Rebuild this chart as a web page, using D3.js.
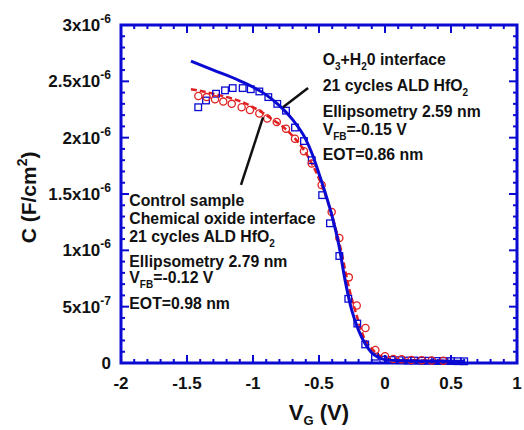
<!DOCTYPE html>
<html>
<head>
<meta charset="utf-8">
<script src="https://cdn.jsdelivr.net/npm/d3@7"></script>
<style>
  html, body { margin: 0; padding: 0; background: #fff; }
  svg { display: block; font-family: "Liberation Sans", Arial, sans-serif; font-weight: bold; }
</style>
</head>
<body>
<svg id="chart" width="524" height="430"></svg>
<script>
// ---- Data (capacitance in units of 1e-6 F/cm^2) ----
const sqV = [-1.415,-1.356,-1.28,-1.212,-1.154,-1.078,-1.017,-0.952,-0.884,-0.816,-0.75,-0.682,-0.614,-0.555,-0.476,-0.417,-0.346,-0.278,-0.21,-0.15,-0.076,-0.013,0.05,0.11,0.17,0.22,0.28,0.33,0.39,0.44,0.5,0.55,0.6];
const sqC = [2.27,2.33,2.39,2.42,2.44,2.44,2.43,2.41,2.36,2.30,2.24,2.09,1.97,1.80,1.49,1.24,0.95,0.57,0.35,0.165,0.056,0.03,0.027,0.025,0.022,0.022,0.02,0.02,0.018,0.018,0.017,0.016,0.015];

const ciV = [-1.414,-1.351,-1.288,-1.225,-1.161,-1.086,-1.023,-0.952,-0.892,-0.82,-0.75,-0.682,-0.614,-0.555,-0.48,-0.404,-0.346,-0.274,-0.214,-0.148,-0.073,0.0,0.063,0.126,0.2,0.278,0.354,0.442];
const ciC = [2.37,2.36,2.34,2.32,2.30,2.27,2.245,2.215,2.17,2.14,2.08,1.99,1.88,1.77,1.58,1.34,1.11,0.76,0.51,0.31,0.115,0.06,0.035,0.033,0.027,0.025,0.022,0.02];

const fitBlueV = [-1.47,-1.3,-1.1,-0.9,-0.8,-0.7,-0.6,-0.55,-0.5,-0.45,-0.4,-0.35,-0.3,-0.25,-0.2,-0.15,-0.1,-0.05,0,0.1,0.3,0.6];
const fitBlueC = [2.68,2.60,2.505,2.38,2.285,2.16,1.985,1.85,1.68,1.50,1.30,1.05,0.72,0.46,0.29,0.17,0.09,0.05,0.03,0.022,0.018,0.015];

const fitRedV = [-1.47,-1.3,-1.05,-0.85,-0.72,-0.614,-0.568,-0.48,-0.404,-0.341,-0.265,-0.214,-0.164,-0.09,0.01,0.1,0.45];
const fitRedC = [2.43,2.39,2.30,2.16,2.04,1.89,1.80,1.58,1.32,1.04,0.63,0.42,0.24,0.115,0.04,0.03,0.02];

const xTicks = [-2,-1.5,-1,-0.5,0,0.5,1];
const xTickLabels = ["-2","-1.5","-1","-0.5","0","0.5","1"];
const yTicks = [0,0.5,1,1.5,2,2.5,3];
const yTickMain = ["0","5x10","1x10","1.5x10","2x10","2.5x10","3x10"];
const yTickExp = ["","-7","-6","-6","-6","-6","-6"];

// annotation pointer lines: [V1, C1, V2, C2]
const pointers = [[-0.583,2.44,-0.773,2.27],[-0.924,2.18,-1.091,1.58]];

// ---- Layout ----
const BLUE = "#0a0ad2", RED = "#e02020";
const svg = d3.select("#chart");
const x = d3.scaleLinear().domain([-2,1]).range([121,517]);
const y = d3.scaleLinear().domain([0,3]).range([363,25]);

// frame
svg.append("rect").attr("x",x(-2)).attr("y",y(3)).attr("width",x(1)-x(-2)).attr("height",y(0)-y(3))
  .attr("fill","none").attr("stroke",BLUE).attr("stroke-width",3);

// ticks on four sides (inward)
const xMinor = d3.range(-20,11).map(d=>d/10);
const yMinor = d3.range(0,31).map(d=>d/10);
const isMajor = v => Math.abs(v*2 - Math.round(v*2)) < 1e-6;
const tk = svg.append("g").attr("stroke",BLUE).attr("stroke-width",2);
xMinor.forEach(v=>{
  const L = isMajor(v)?8:4;
  tk.append("line").attr("x1",x(v)).attr("x2",x(v)).attr("y1",y(0)).attr("y2",y(0)-L);
  tk.append("line").attr("x1",x(v)).attr("x2",x(v)).attr("y1",y(3)).attr("y2",y(3)+L);
});
yMinor.forEach(v=>{
  const L = isMajor(v)?8:4;
  tk.append("line").attr("y1",y(v)).attr("y2",y(v)).attr("x1",x(-2)).attr("x2",x(-2)+L);
  tk.append("line").attr("y1",y(v)).attr("y2",y(v)).attr("x1",x(1)).attr("x2",x(1)-L);
});

// tick labels
svg.append("g").selectAll("text").data(xTicks).join("text")
  .attr("x",d=>x(d)).attr("y",389).attr("text-anchor","middle")
  .attr("font-size",17).attr("fill","#111").text((d,i)=>xTickLabels[i]);

const yl = svg.append("g").selectAll("text").data(yTicks).join("text")
  .attr("x",111).attr("y",d=>y(d)+6).attr("text-anchor","end")
  .attr("font-size",17).attr("fill","#111");
yl.append("tspan").text((d,i)=>yTickMain[i]);
yl.append("tspan").attr("dy",-8).attr("font-size",12).text((d,i)=>yTickExp[i]);

// axis titles
const xt = svg.append("text").attr("x",x(-0.5)).attr("y",420).attr("text-anchor","middle")
  .attr("font-size",22).attr("fill","#111");
xt.append("tspan").text("V");
xt.append("tspan").attr("dy",5).attr("font-size",13).text("G");
xt.append("tspan").attr("dy",-5).text(" (V)");

const yt = svg.append("text").attr("transform",`translate(36,${y(1.47)}) rotate(-90)`).attr("text-anchor","middle")
  .attr("font-size",21).attr("fill","#111");
yt.append("tspan").text("C (F/cm");
yt.append("tspan").attr("dy",-9).attr("font-size",14).text("2");
yt.append("tspan").attr("dy",9).text(")");

// fit lines
const line = d3.line().x(d=>x(d[0])).y(d=>y(d[1])).curve(d3.curveMonotoneX);
svg.append("path").datum(fitRedV.map((v,i)=>[v,fitRedC[i]])).attr("d",line)
  .attr("fill","none").attr("stroke",RED).attr("stroke-width",2.5).attr("stroke-dasharray","6,3");

// markers
svg.append("g").selectAll("rect").data(sqV.map((v,i)=>[v,sqC[i]])).join("rect")
  .attr("x",d=>x(d[0])-3.3).attr("y",d=>y(d[1])-3.3).attr("width",6.6).attr("height",6.6)
  .attr("fill","none").attr("stroke",BLUE).attr("stroke-width",1.3);
svg.append("g").selectAll("circle").data(ciV.map((v,i)=>[v,ciC[i]])).join("circle")
  .attr("cx",d=>x(d[0])).attr("cy",d=>y(d[1])).attr("r",3.6)
  .attr("fill","none").attr("stroke",RED).attr("stroke-width",1.3);

svg.append("path").datum(fitBlueV.map((v,i)=>[v,fitBlueC[i]])).attr("d",line)
  .attr("fill","none").attr("stroke",BLUE).attr("stroke-width",3);

// pointer lines
svg.append("g").selectAll("line").data(pointers).join("line")
  .attr("x1",d=>x(d[0])).attr("y1",d=>y(d[1])).attr("x2",d=>x(d[2])).attr("y2",d=>y(d[3]))
  .attr("stroke","#111").attr("stroke-width",2.5);

// annotations
function ann(V, C, rows, gaps){
  const g = svg.append("g").attr("fill","#111").attr("font-size",15.8);
  let off = 0;
  rows.forEach((parts,i)=>{
    off += gaps[i];
    const t = g.append("text").attr("x",x(V)).attr("y",y(C)+off);
    parts.forEach(p=>{
      if (typeof p === "string") t.append("tspan").text(p);
      else { t.append("tspan").attr("dy",5).attr("font-size",10).text(p.sub);
             t.append("tspan").attr("dy",-5).text(p.after); }
    });
  });
}
ann(-0.472, 2.644, [
  ["O",{sub:"3",after:"+H"},{sub:"2",after:"0 interface"}],
  ["21 cycles ALD HfO",{sub:"2",after:""}],
  ["Ellipsometry 2.59 nm"],
  ["V",{sub:"FB",after:"=-0.15 V"}],
  ["EOT=0.86 nm"]
],[0,25.7,26.6,17.7,25]);
ann(-1.937, 1.393, [
  ["Control sample"],
  ["Chemical oxide interface"],
  ["21 cycles ALD HfO",{sub:"2",after:""}],
  ["Ellipsometry 2.79 nm"],
  ["V",{sub:"FB",after:"=-0.12 V"}],
  ["EOT=0.98 nm"]
],[0,18,17.7,25,16.6,26]);
</script>
</body>
</html>
